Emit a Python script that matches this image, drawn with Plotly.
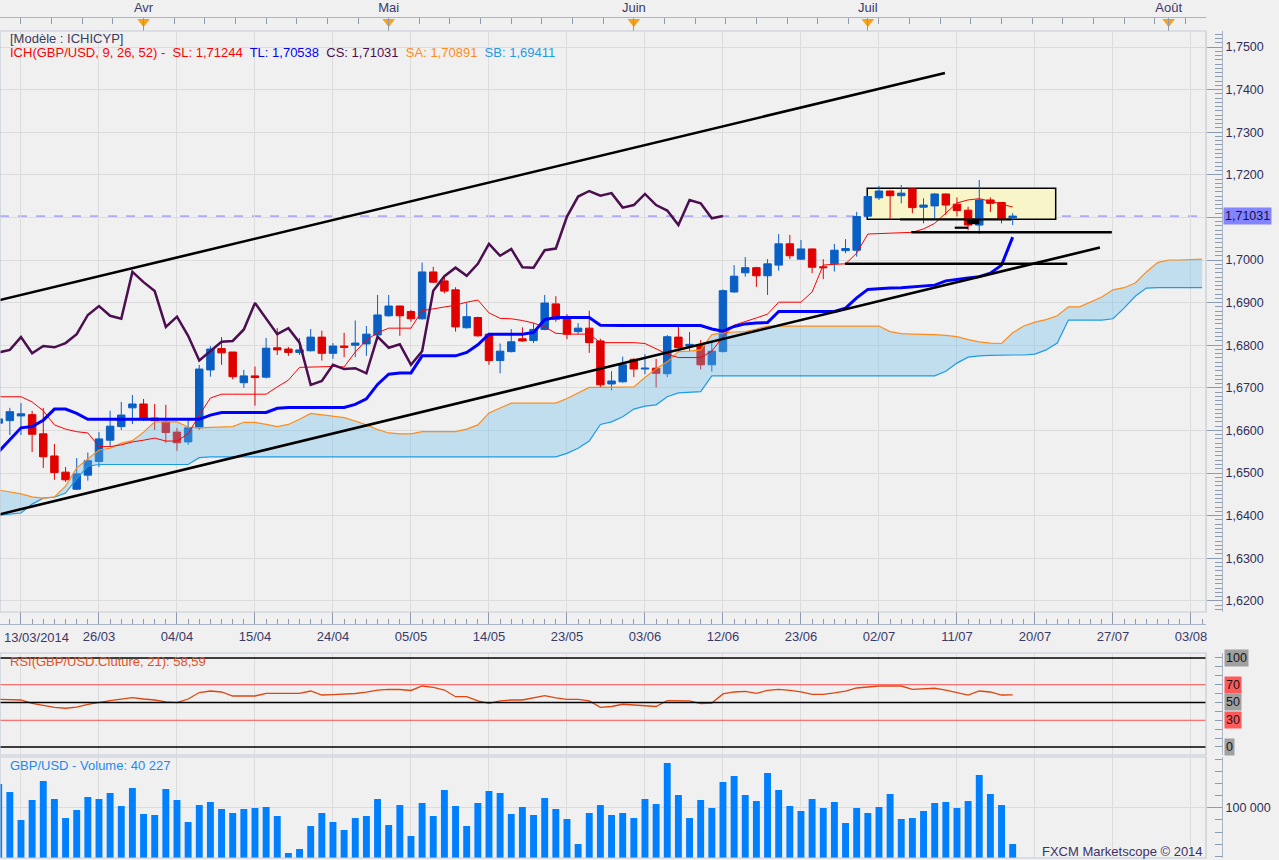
import plotly.graph_objects as go

# ---------------- data ----------------
open_ = [1.6617, 1.6623, 1.6634, 1.6637, 1.6592, 1.6540, 1.6502, 1.6462, 1.6495, 1.6527,
         1.6577, 1.6609, 1.6653, 1.6662, 1.6629, 1.6620, 1.6596, 1.6573, 1.6606, 1.6742,
         1.6792, 1.6784, 1.6712, 1.6728, 1.6725, 1.6794, 1.6791, 1.6783, 1.6787, 1.6819,
         1.6781, 1.6798, 1.6800, 1.6803, 1.6824, 1.6869, 1.6892, 1.6879, 1.6862, 1.6972,
         1.6951, 1.6930, 1.6841, 1.6865, 1.6826, 1.6764, 1.6785, 1.6815, 1.6811, 1.6837,
         1.6897, 1.6864, 1.6832, 1.6840, 1.6810, 1.6709, 1.6714, 1.6767, 1.6744, 1.6746,
         1.6733, 1.6819, 1.6798, 1.6799, 1.6754, 1.6785, 1.6925, 1.6970, 1.6982, 1.6963,
         1.6988, 1.7038, 1.7002, 1.7026, 1.6984, 1.6991, 1.7022, 1.7023, 1.7103, 1.7146,
         1.7162, 1.7151, 1.7167, 1.7124, 1.7127, 1.7155, 1.7131, 1.7117, 1.7082, 1.7141,
         1.7135, 1.7099]
high = [1.6636, 1.6653, 1.6664, 1.6646, 1.6653, 1.6568, 1.6514, 1.6535, 1.6548, 1.6596,
        1.6646, 1.6667, 1.6683, 1.6674, 1.6662, 1.6660, 1.6606, 1.6627, 1.6754, 1.6798,
        1.6819, 1.6784, 1.6742, 1.6750, 1.6817, 1.6840, 1.6796, 1.6817, 1.6838, 1.6834,
        1.6805, 1.6829, 1.6858, 1.6845, 1.6918, 1.6918, 1.6893, 1.6883, 1.6994, 1.6984,
        1.6961, 1.6936, 1.6900, 1.6867, 1.6828, 1.6804, 1.6838, 1.6842, 1.6852, 1.6918,
        1.6915, 1.6873, 1.6852, 1.6881, 1.6815, 1.6739, 1.6773, 1.6769, 1.6779, 1.6768,
        1.6824, 1.6843, 1.6831, 1.6812, 1.6808, 1.6931, 1.6988, 1.7007, 1.6984, 1.7002,
        1.7061, 1.7059, 1.7047, 1.7027, 1.7002, 1.7038, 1.7049, 1.7113, 1.7150, 1.7174,
        1.7163, 1.7176, 1.7168, 1.7145, 1.7157, 1.7156, 1.7147, 1.7125, 1.7188, 1.7147,
        1.7136, 1.7110]
low = [1.6606, 1.6589, 1.6589, 1.6549, 1.6512, 1.6484, 1.6479, 1.6460, 1.6482, 1.6514,
       1.6562, 1.6601, 1.6615, 1.6622, 1.6601, 1.6571, 1.6552, 1.6566, 1.6601, 1.6726,
       1.6754, 1.6720, 1.6700, 1.6658, 1.6722, 1.6777, 1.6775, 1.6777, 1.6785, 1.6764,
       1.6768, 1.6772, 1.6772, 1.6775, 1.6812, 1.6867, 1.6822, 1.6855, 1.6860, 1.6946,
       1.6922, 1.6832, 1.6839, 1.6820, 1.6754, 1.6734, 1.6783, 1.6808, 1.6805, 1.6835,
       1.6855, 1.6814, 1.6826, 1.6782, 1.6700, 1.6694, 1.6712, 1.6725, 1.6732, 1.6701,
       1.6725, 1.6792, 1.6786, 1.6743, 1.6738, 1.6783, 1.6923, 1.6961, 1.6937, 1.6918,
       1.6975, 1.7002, 1.7000, 1.6969, 1.6955, 1.6973, 1.7016, 1.7008, 1.7102, 1.7141,
       1.7096, 1.7133, 1.7110, 1.7086, 1.7094, 1.7106, 1.7102, 1.7070, 1.7061, 1.7113,
       1.7086, 1.7082]
close = [1.6627, 1.6644, 1.6639, 1.6591, 1.6538, 1.6501, 1.6484, 1.6498, 1.6529, 1.6580,
         1.6610, 1.6636, 1.6662, 1.6626, 1.6623, 1.6595, 1.6571, 1.6606, 1.6744, 1.6791,
         1.6782, 1.6726, 1.6728, 1.6724, 1.6793, 1.6789, 1.6783, 1.6789, 1.6819, 1.6781,
         1.6798, 1.6795, 1.6805, 1.6826, 1.6871, 1.6892, 1.6869, 1.6862, 1.6972, 1.6948,
         1.6927, 1.6843, 1.6867, 1.6822, 1.6764, 1.6786, 1.6808, 1.6810, 1.6837, 1.6899,
         1.6861, 1.6826, 1.6840, 1.6806, 1.6707, 1.6716, 1.6754, 1.6744, 1.6746, 1.6734,
         1.6820, 1.6794, 1.6802, 1.6754, 1.6786, 1.6928, 1.6962, 1.6982, 1.6963, 1.6991,
         1.7038, 1.7010, 1.7026, 1.6983, 1.6982, 1.7023, 1.7027, 1.7102, 1.7149, 1.7162,
         1.7151, 1.7157, 1.7123, 1.7129, 1.7155, 1.7129, 1.7116, 1.7082, 1.7141, 1.7133,
         1.7098, 1.71031]
bar_index = list(range(len(close)))

tenkan = [1.6679, 1.6679, 1.6679, 1.6667, 1.6646, 1.6613, 1.6603, 1.6597, 1.6594, 1.6562,
          1.6562, 1.6566, 1.6573, 1.6577, 1.6582, 1.6575, 1.6575, 1.6592, 1.6636, 1.6676,
          1.6685, 1.6685, 1.6685, 1.6685, 1.6685, 1.6702, 1.6718, 1.6748, 1.6749, 1.6749,
          1.6750, 1.6749, 1.6784, 1.6812, 1.6829, 1.6840, 1.6840, 1.6840, 1.6881, 1.6885,
          1.6889, 1.6894, 1.6901, 1.6906, 1.6876, 1.6863, 1.6862, 1.6858, 1.6852, 1.6843,
          1.6828, 1.6826, 1.6826, 1.6826, 1.6806, 1.6806, 1.6806, 1.6806, 1.6804, 1.6791,
          1.6779, 1.6771, 1.6771, 1.6771, 1.6786, 1.6820, 1.6847, 1.6855, 1.6864, 1.6873,
          1.6901, 1.6901, 1.6901, 1.6925, 1.6988, 1.6990, 1.6991, 1.7016, 1.7061, 1.7062,
          1.7063, 1.7065, 1.7065, 1.7073, 1.7086, 1.7110, 1.7134, 1.7141, 1.7144, 1.7138,
          1.7131, 1.71244]
kijun = [1.6550, 1.6577, 1.6606, 1.6609, 1.6624, 1.6650, 1.6650, 1.6640, 1.6626, 1.6626,
         1.6626, 1.6626, 1.6626, 1.6626, 1.6626, 1.6626, 1.6626, 1.6626, 1.6626, 1.6636,
         1.6642, 1.6642, 1.6642, 1.6642, 1.6642, 1.6652, 1.6654, 1.6654, 1.6654, 1.6654,
         1.6654, 1.6654, 1.6661, 1.6674, 1.6708, 1.6732, 1.6735, 1.6735, 1.6775, 1.6775,
         1.6775, 1.6775, 1.6783, 1.6801, 1.6826, 1.6826, 1.6826, 1.6826, 1.6830, 1.6860,
         1.6865, 1.6865, 1.6865, 1.6865, 1.6847, 1.6846, 1.6846, 1.6846, 1.6846, 1.6846,
         1.6846, 1.6846, 1.6846, 1.6846, 1.6838, 1.6833, 1.6844, 1.6850, 1.6852, 1.6853,
         1.6879, 1.6879, 1.6879, 1.6879, 1.6879, 1.6879, 1.6887, 1.6911, 1.6931, 1.6933,
         1.6934, 1.6935, 1.6937, 1.6939, 1.6941, 1.6951, 1.6955, 1.6958, 1.6961, 1.6969,
         1.6988, 1.70538]
# cloud values at each chart position (already shifted 26 bars forward)
senkou_a = [1.6460, 1.6456, 1.6451, 1.6444, 1.6441, 1.6444, 1.6469, 1.6512, 1.6534, 1.6554,
            1.6558, 1.6570, 1.6576, 1.6596, 1.6620, 1.6620, 1.6620, 1.6608, 1.6606, 1.6607,
            1.6608, 1.6609, 1.6619, 1.6619, 1.6614, 1.6609, 1.6614, 1.6626, 1.6640, 1.6637,
            1.6634, 1.6630, 1.6622, 1.6613, 1.6602, 1.6594, 1.6592, 1.6592, 1.6597, 1.6597,
            1.6597, 1.6597, 1.6603, 1.6613, 1.6641, 1.6653, 1.6664, 1.6664, 1.6664, 1.6664,
            1.6664, 1.6675, 1.6688, 1.6701, 1.6701, 1.6701, 1.6701, 1.6702, 1.6724, 1.6745,
            1.6761, 1.6785, 1.6786, 1.6789, 1.6825, 1.6829, 1.6831, 1.6832, 1.6838, 1.6845,
            1.6845, 1.6845, 1.6845, 1.6845, 1.6845, 1.6845, 1.6845, 1.6845, 1.6845, 1.6845,
            1.6832, 1.6827, 1.6826, 1.6826, 1.6825, 1.6823, 1.6820, 1.6813, 1.6808, 1.6805,
            1.6804, 1.6829, 1.6845, 1.6854, 1.6860, 1.6869, 1.6890, 1.6890, 1.6901, 1.6913,
            1.6930, 1.6935, 1.6946, 1.6972, 1.6994, 1.7000, 1.7000, 1.7001, 1.7002]
senkou_b = [1.6401, 1.6404, 1.6406, 1.6427, 1.6441, 1.6443, 1.6453, 1.6486, 1.6516, 1.6520,
            1.6520, 1.6520, 1.6520, 1.6520, 1.6520, 1.6520, 1.6520, 1.6520, 1.6536, 1.6538,
            1.6538, 1.6538, 1.6538, 1.6538, 1.6538, 1.6538, 1.6538, 1.6538, 1.6538, 1.6538,
            1.6538, 1.6538, 1.6538, 1.6538, 1.6538, 1.6538, 1.6538, 1.6538, 1.6538, 1.6538,
            1.6538, 1.6538, 1.6538, 1.6538, 1.6538, 1.6538, 1.6538, 1.6538, 1.6538, 1.6538,
            1.6538, 1.6546, 1.6558, 1.6575, 1.6614, 1.6620, 1.6632, 1.6650, 1.6657, 1.6660,
            1.6679, 1.6688, 1.6689, 1.6691, 1.6728, 1.6728, 1.6728, 1.6728, 1.6728, 1.6728,
            1.6728, 1.6728, 1.6728, 1.6728, 1.6728, 1.6728, 1.6728, 1.6728, 1.6728, 1.6728,
            1.6728, 1.6728, 1.6728, 1.6728, 1.6728, 1.6739, 1.6758, 1.6772, 1.6775, 1.6776,
            1.6777, 1.6777, 1.6777, 1.6779, 1.6789, 1.6805, 1.6859, 1.6859, 1.6859, 1.6859,
            1.6862, 1.6887, 1.6915, 1.6934, 1.6935, 1.6935, 1.6935, 1.6935, 1.6935]
cloud_index = list(range(len(senkou_a)))

volume = [139000, 125800, 79700, 112700, 144000, 114300, 83000, 96200, 117600, 114300,
          124200, 102800, 132400, 89600, 88000, 130800, 112700, 76500, 104400, 109400,
          97900, 91300, 97900, 99500, 101200, 86300, 25400, 32000, 69900, 91300,
          76500, 63300, 83000, 86300, 114300, 71500, 104400, 53400, 107700, 86300,
          129100, 102800, 69900, 107700, 127500, 124200, 89600, 101200, 88000, 116000,
          97900, 81400, 40300, 91300, 104400, 88000, 91300, 83000, 114300, 106100,
          173600, 120900, 83000, 112700, 99500, 142300, 152200, 120900, 111000, 157100,
          129100, 102800, 94600, 114300, 99500, 109400, 74800, 99500, 91300, 101200,
          122600, 81400, 83000, 94600, 107700, 109400, 99500, 111000, 153800, 122600,
          104400, 40227]
rsi = [53.6, 53.6, 52.8, 49.1, 46.6, 44.4, 43.5, 44.9, 47.8, 50.2,
       52.2, 53.9, 55.4, 53.9, 52.8, 50.6, 49.8, 53.9, 61.2, 62.9,
       61.8, 57.3, 57.3, 57.3, 60.3, 60.3, 60.3, 60.3, 62.9, 58.4,
       58.8, 59.2, 60.1, 61.6, 64.0, 64.8, 64.6, 63.5, 68.5, 66.9,
       64.0, 56.5, 56.5, 51.7, 49.1, 51.7, 52.8, 52.8, 55.1, 57.6,
       55.1, 53.6, 53.4, 51.7, 44.6, 45.5, 48.0, 47.2, 46.9, 45.5,
       52.2, 52.2, 51.7, 48.7, 49.4, 59.6, 61.8, 62.4, 60.3, 63.5,
       64.8, 63.5, 61.8, 59.2, 59.2, 60.7, 62.7, 66.3, 67.6, 68.5,
       68.5, 68.5, 64.8, 65.5, 66.0, 64.0, 61.2, 58.4, 62.9, 61.8,
       58.4, 58.59]

date_tick_pos = [2, 9, 16, 23, 30, 37, 44, 51, 58, 65, 72, 79, 86, 93, 100, 107]
date_tick_text = ['', '26/03', '04/04', '15/04', '24/04', '05/05', '14/05', '23/05',
                  '03/06', '12/06', '23/06', '02/07', '11/07', '20/07', '27/07', '03/08']
first_date_label = '13/03/2014'
month_pos = [13, 35, 57, 78, 105]
month_text = ['Avr', 'Mai', 'Juin', 'Juil', 'Août']
price_ticks = [1.62, 1.63, 1.64, 1.65, 1.66, 1.67, 1.68, 1.69, 1.70, 1.71, 1.72, 1.73, 1.74, 1.75]
price_tick_text = ['1,6200', '1,6300', '1,6400', '1,6500', '1,6600', '1,6700', '1,6800',
                   '1,6900', '1,7000', '', '1,7200', '1,7300', '1,7400', '1,7500']
rsi_levels = [100, 70, 50, 30, 0]
rsi_level_text = ['100', '70', '50', '30', '0']
volume_ticks = [100000]
volume_tick_text = ['100 000']

# user-drawn objects (index, price)
upper_trend_x = [0, 84.92]
upper_trend_y = [1.69054, 1.74390]
lower_trend_x = [0, 98.83]
lower_trend_y = [1.64024, 1.70293]
support_1_x = [75.95, 95.9]
support_1_y = [1.69913, 1.69913]
support_2_x = [81.9, 99.9]
support_2_y = [1.7065, 1.7065]
support_3_x = [80.9, 90.9]
support_3_y = [1.70951, 1.70951]
support_4_x = [85.8, 87.0]
support_4_y = [1.70758, 1.70758]
support_5_x = [86.9, 88.0]
support_5_y = [1.70899, 1.70899]
range_box_x = [77.95, 94.86]
range_box_y = [1.70955, 1.71683]

sa_now = 1.70891
sb_now = 1.69411

# ---------------- layout helpers ----------------
W, H = 1279, 860
PLOT_W = 1222
XD = 1206 / PLOT_W


def py(px):
    return 1 - px / H


def pxx(px):
    return px / PLOT_W


def fr(v, n=5):
    return f"{v:.{n}f}".replace('.', ',')


FONT = 'Liberation Sans'
TXT = '#2E2E5E'
GRID = '#DCDCDC'
AXL = '#A9B5C6'
TICKC = '#8C9BB0'
LBL = 13

fig = go.Figure()

# candles
fig.add_trace(go.Candlestick(
    x=bar_index, open=open_, high=high, low=low, close=close,
    increasing=dict(line=dict(color='#0A5FC4', width=1), fillcolor='#0A5FC4'),
    decreasing=dict(line=dict(color='#E00000', width=1), fillcolor='#E00000'),
    whiskerwidth=0, hoverinfo='skip', xaxis='x', yaxis='y'))

# cloud
fig.add_trace(go.Scatter(x=cloud_index, y=senkou_b, mode='lines',
                         line=dict(color='#1E9BE8', width=1.2), hoverinfo='skip'))
fig.add_trace(go.Scatter(x=cloud_index, y=senkou_a, mode='lines', fill='tonexty',
                         fillcolor='rgba(103,189,234,0.35)',
                         line=dict(color='#FF8C1A', width=1.2), hoverinfo='skip'))
# tenkan / kijun / chikou
fig.add_trace(go.Scatter(x=bar_index, y=tenkan, mode='lines',
                         line=dict(color='#FF0000', width=1), hoverinfo='skip'))
fig.add_trace(go.Scatter(x=bar_index, y=kijun, mode='lines',
                         line=dict(color='#0000FF', width=3), hoverinfo='skip'))
chikou_x = bar_index[:len(close) - 26]
chikou_y = close[26:]
fig.add_trace(go.Scatter(x=chikou_x, y=chikou_y, mode='lines',
                         line=dict(color='#4B0F4F', width=2.5), hoverinfo='skip'))

# trend / support lines
for xs, ys, w in [(upper_trend_x, upper_trend_y, 2.6), (lower_trend_x, lower_trend_y, 2.6),
                  (support_1_x, support_1_y, 2.5), (support_2_x, support_2_y, 2.5),
                  (support_3_x, support_3_y, 2.2), (support_4_x, support_4_y, 2.2),
                  (support_5_x, support_5_y, 5)]:
    fig.add_trace(go.Scatter(x=xs, y=ys, mode='lines', line=dict(color='#000000', width=w),
                             hoverinfo='skip'))

# RSI
fig.add_trace(go.Scatter(x=bar_index, y=rsi, mode='lines', xaxis='x2', yaxis='y2',
                         line=dict(color='#E0450F', width=1.3), hoverinfo='skip'))
# Volume
fig.add_trace(go.Bar(x=bar_index, y=volume, xaxis='x3', yaxis='y3', width=0.62,
                     marker=dict(color='#0080FF', line=dict(width=0)), hoverinfo='skip'))
# month markers (header)
fig.add_trace(go.Scatter(x=month_pos, y=[0.72] * len(month_pos), mode='markers',
                         xaxis='x4', yaxis='y4',
                         marker=dict(symbol='triangle-down', size=11, color='#F7A21B',
                                     line=dict(width=0)), hoverinfo='skip'))
# date strip placeholder
fig.add_trace(go.Scatter(x=[], y=[], xaxis='x5', yaxis='y5', hoverinfo='skip'))

xr = [0.117, 108.35]
common_x = dict(domain=[0, XD], range=xr, zeroline=False, fixedrange=True)

layout = dict(
    width=W, height=H, autosize=False,
    margin=dict(l=0, r=W - PLOT_W, t=0, b=0),
    paper_bgcolor='#F0F0F0', plot_bgcolor='#F0F0F0',
    showlegend=False, separators=', ',
    font=dict(family=FONT, size=12, color=TXT),
    boxgap=0.33, boxgroupgap=0,
    xaxis=dict(**common_x, anchor='y', tickmode='array', tickvals=date_tick_pos,
               showticklabels=False, ticks='', showgrid=True, gridcolor=GRID,
               rangeslider=dict(visible=False)),
    yaxis=dict(domain=[py(612), py(31)], range=[1.61737, 1.75376], anchor='free', position=1,
               side='right', tickmode='array', tickvals=price_ticks, ticktext=price_tick_text,
               ticks='inside', ticklen=15, tickcolor=TICKC, showline=True, linecolor=AXL,
               showgrid=True, gridcolor=GRID, zeroline=False,
               tickfont=dict(family=FONT, size=12.5, color=TXT),
               minor=dict(dtick=0.001, tick0=1.6, ticks='inside', ticklen=7, tickcolor=TICKC,
                          showgrid=False)),
    xaxis2=dict(**common_x, anchor='y2', matches='x', tickmode='array', tickvals=date_tick_pos,
                showticklabels=False, ticks='', showgrid=True, gridcolor=GRID),
    yaxis2=dict(domain=[py(755), py(653)], range=[-9, 105.6], anchor='free', position=1,
                side='right', tickmode='linear', tick0=0, dtick=10, ticks='inside', ticklen=7,
                tickcolor=TICKC, showticklabels=False, showline=True, linecolor=AXL,
                showgrid=False, zeroline=False),
    xaxis3=dict(**common_x, anchor='y3', matches='x', tickmode='array', tickvals=date_tick_pos,
                showticklabels=False, ticks='', showgrid=True, gridcolor=GRID),
    yaxis3=dict(domain=[py(858), py(757)], range=[17210, 183450], anchor='free', position=1,
                side='right', tickmode='array', tickvals=volume_ticks, ticktext=volume_tick_text,
                ticks='inside', ticklen=15, tickcolor=TICKC, showline=True, linecolor=AXL,
                showgrid=True, gridcolor=GRID, zeroline=False,
                tickfont=dict(family=FONT, size=12.5, color=TXT),
                minor=dict(dtick=20000, tick0=0, ticks='inside', ticklen=7, tickcolor=TICKC,
                           showgrid=False)),
    xaxis4=dict(**common_x, anchor='y4', matches='x', side='top', tickmode='array',
                tickvals=month_pos, ticktext=month_text, ticks='inside', ticklen=13,
                tickcolor=TICKC, showline=True, linecolor=AXL, showgrid=False,
                tickfont=dict(family=FONT, size=LBL, color='#3A3A6A'),
                minor=dict(dtick=2.75, tick0=13, ticks='inside', ticklen=6, tickcolor=TICKC)),
    yaxis4=dict(domain=[py(31), py(18)], range=[0, 1], visible=False, fixedrange=True),
    xaxis5=dict(**common_x, anchor='y5', matches='x', side='bottom', tickmode='array',
                tickvals=date_tick_pos, ticktext=date_tick_text, ticks='inside', ticklen=12,
                tickcolor=TICKC, showline=True, linecolor=AXL, showgrid=False,
                tickfont=dict(family=FONT, size=LBL, color='#3A3A6A'),
                minor=dict(dtick=1, tick0=0, ticks='inside', ticklen=5, tickcolor=TICKC)),
    yaxis5=dict(domain=[py(624), py(612)], range=[0, 1], visible=False, fixedrange=True),
)
fig.update_layout(**layout)

shapes = []
# range box (between grid and traces)
shapes.append(dict(type='rect', xref='x', yref='y', x0=range_box_x[0], x1=range_box_x[1],
                   y0=range_box_y[0], y1=range_box_y[1], fillcolor='#F8F6C8',
                   line=dict(color='#000000', width=1.5), layer='between'))
# last price dashed line
shapes.append(dict(type='line', xref='paper', yref='y', x0=0, x1=XD,
                   y0=close[-1], y1=close[-1], line=dict(color='#7A7AFF', width=1, dash='dash'),
                   layer='between'))
# RSI level lines
for lv in rsi_levels:
    red = lv in (30, 70)
    shapes.append(dict(type='line', xref='paper', yref='y2', x0=0, x1=XD, y0=lv, y1=lv,
                       line=dict(color='#FF4F4F' if red else '#000000', width=1 if red else 1.5),
                       layer='above'))
# panel borders
for top, bot in [(31, 612), (653, 755), (757, 858)]:
    shapes.append(dict(type='rect', xref='paper', yref='paper', x0=0, x1=XD,
                       y0=py(bot), y1=py(top), line=dict(color='#C3CCD8', width=1.2),
                       fillcolor='rgba(0,0,0,0)', layer='above'))
fig.update_layout(shapes=shapes)

ann = []
ann.append(dict(xref='paper', yref='paper', x=pxx(8), y=py(39), xanchor='left', yanchor='middle',
                text='[Modèle : ICHICYP]', showarrow=False,
                font=dict(family=FONT, size=LBL, color='#3C3C5C')))
legend_txt = ("<span style='color:#FF0000'>ICH(GBP/USD, 9, 26, 52) -&nbsp; SL: " + fr(tenkan[-1]) +
              "</span>&nbsp; <span style='color:#0000FF'>TL: " + fr(kijun[-1]) +
              "</span>&nbsp; <span style='color:#4B0F4F'>CS: " + fr(close[-1]) +
              "</span>&nbsp; <span style='color:#FF8C1A'>SA: " + fr(sa_now) +
              "</span>&nbsp; <span style='color:#1E9BE8'>SB: " + fr(sb_now) + "</span>")
ann.append(dict(xref='paper', yref='paper', x=pxx(8), y=py(52), xanchor='left', yanchor='middle',
                text=legend_txt, showarrow=False, font=dict(family=FONT, size=LBL)))
ann.append(dict(xref='paper', yref='paper', x=pxx(8), y=py(661), xanchor='left', yanchor='middle',
                text='RSI(GBP/USD.Cluture, 21): ' + fr(rsi[-1], 2), showarrow=False,
                font=dict(family=FONT, size=LBL, color='#E4501E')))
vol_txt = f"{volume[-1]:,}".replace(',', ' ')
ann.append(dict(xref='paper', yref='paper', x=pxx(8), y=py(765), xanchor='left', yanchor='middle',
                text='GBP/USD - Volume: ' + vol_txt, showarrow=False,
                font=dict(family=FONT, size=LBL, color='#1E88F0')))
ann.append(dict(xref='paper', yref='paper', x=pxx(1205), y=py(851), xanchor='right',
                yanchor='middle', text='FXCM Marketscope © 2014', showarrow=False,
                font=dict(family=FONT, size=LBL, color='#3C3266')))
ann.append(dict(xref='paper', yref='paper', x=pxx(2), y=py(637), xanchor='left', yanchor='middle',
                text=first_date_label, showarrow=False,
                font=dict(family=FONT, size=LBL, color='#3A3A6A')))
ann.append(dict(xref='paper', yref='y', x=pxx(1223), y=close[-1], xanchor='left',
                yanchor='middle', text=fr(close[-1]), showarrow=False, bgcolor='#8484FF',
                borderpad=1, font=dict(family=FONT, size=12.5, color='#10104A')))
for lv, t in zip(rsi_levels, rsi_level_text):
    red = lv in (30, 70)
    ann.append(dict(xref='paper', yref='y2', x=pxx(1224), y=lv, xanchor='left',
                    yanchor='middle', text=t, showarrow=False,
                    bgcolor='#FF5A5A' if red else '#A0A0A0', borderpad=1,
                    font=dict(family=FONT, size=12.5, color='#151515')))
fig.update_layout(annotations=ann)

fig.write_html("out.html", config={'displayModeBar': False},
               post_script="document.body.style.margin='0';document.body.style.padding='0';")
